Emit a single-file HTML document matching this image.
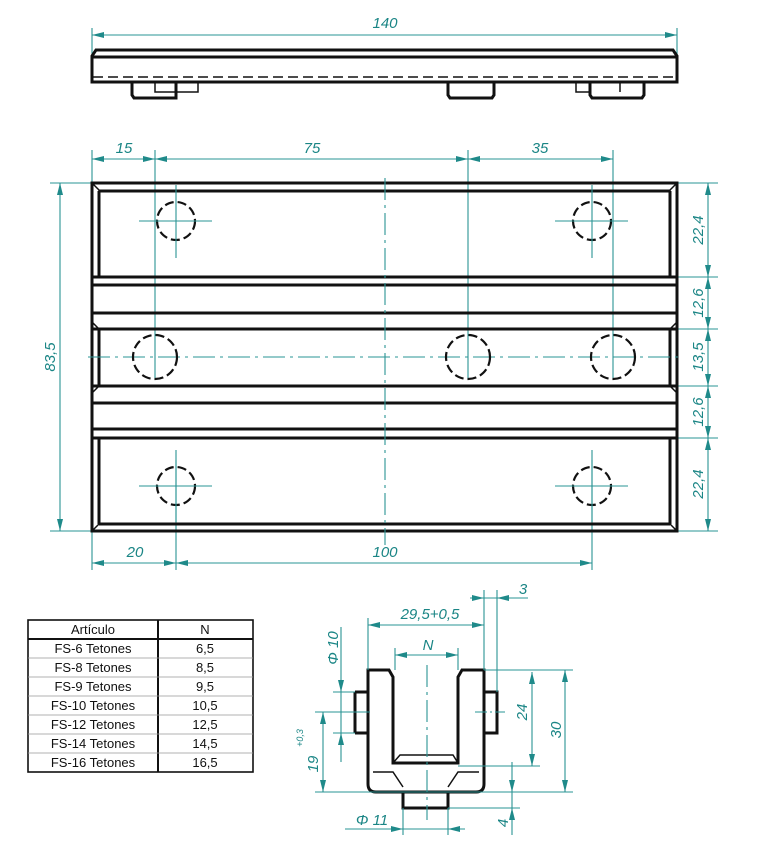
<!DOCTYPE html>
<html><head><meta charset="utf-8"><style>
html,body{margin:0;padding:0;background:#fff}
svg{display:block}
.k{stroke:#111;fill:none;stroke-width:3}
.kt{stroke:#111;fill:none;stroke-width:1.5}
.hd{stroke:#111;fill:none;stroke-width:2.2;stroke-dasharray:9 4}
.t{stroke:#2a9494;fill:none;stroke-width:1.1}
.cl{stroke:#2a9494;fill:none;stroke-width:1.1;stroke-dasharray:22 5 3 5}
.d{stroke:#2a9494;fill:none;stroke-width:1.1;marker-start:url(#a);marker-end:url(#a)}
.tx{fill:#1a8585;font-family:"Liberation Sans",sans-serif;font-style:italic;font-size:15px}
.tb{font-family:"Liberation Sans",sans-serif;font-size:13px;fill:#111}
</style></head><body>
<svg width="768" height="849" viewBox="0 0 768 849" xmlns="http://www.w3.org/2000/svg">
<defs>
<marker id="a" viewBox="0 0 12 6" refX="12" refY="3" markerWidth="12" markerHeight="6" markerUnits="userSpaceOnUse" orient="auto-start-reverse">
<path d="M12,3 L0,0 L0,6 Z" fill="#1f8a8a"/></marker>
</defs>

<!-- TOP VIEW -->
<line class="t" x1="92" y1="28" x2="92" y2="56"/><line class="t" x1="677" y1="28" x2="677" y2="56"/>
<line class="d" x1="92" y1="35" x2="677" y2="35"/>
<text class="tx" x="385" y="28" text-anchor="middle">140</text>
<path class="k" d="M92,82 L92,56 L96,50 L673,50 L677,56 L677,82 Z"/>
<line class="k" x1="93" y1="57" x2="676" y2="57"/>
<line class="kt" x1="93" y1="77" x2="676" y2="77" stroke-dasharray="10 5"/>
<path class="k" d="M132,83 L132,95 L134,98 L176,98 L176,83"/>
<path class="kt" d="M155,83 L155,92 L198,92 L198,83"/>
<path class="k" d="M448,83 L448,95 L450,98 L492,98 L494,95 L494,83"/>
<path class="kt" d="M576,83 L576,92 L590,92"/>
<path class="k" d="M590,83 L590,95 L592,98 L642,98 L644,95 L644,83"/>
<line class="kt" x1="620" y1="83" x2="620" y2="92"/>

<!-- MAIN VIEW dims -->
<line class="t" x1="92" y1="150" x2="92" y2="183"/>
<line class="t" x1="155" y1="150" x2="155" y2="380"/>
<line class="t" x1="468" y1="150" x2="468" y2="380"/>
<line class="t" x1="613" y1="150" x2="613" y2="380"/>
<line class="d" x1="92" y1="159" x2="155" y2="159"/>
<line class="d" x1="155" y1="159" x2="468" y2="159"/>
<line class="d" x1="468" y1="159" x2="613" y2="159"/>
<text class="tx" x="124" y="153" text-anchor="middle">15</text>
<text class="tx" x="312" y="153" text-anchor="middle">75</text>
<text class="tx" x="540" y="153" text-anchor="middle">35</text>

<line class="t" x1="50" y1="183" x2="92" y2="183"/><line class="t" x1="50" y1="531" x2="92" y2="531"/>
<line class="d" x1="60" y1="183" x2="60" y2="531"/>
<text class="tx" transform="translate(55,357) rotate(-90)" text-anchor="middle">83,5</text>

<line class="t" x1="92" y1="531" x2="92" y2="570"/>
<line class="t" x1="176" y1="460" x2="176" y2="570"/>
<line class="t" x1="592" y1="460" x2="592" y2="570"/>
<line class="d" x1="92" y1="563" x2="176" y2="563"/>
<line class="d" x1="176" y1="563" x2="592" y2="563"/>
<text class="tx" x="135" y="557" text-anchor="middle">20</text>
<text class="tx" x="385" y="557" text-anchor="middle">100</text>

<g>
<line class="t" x1="677" y1="183" x2="718" y2="183"/>
<line class="t" x1="670" y1="277" x2="718" y2="277"/>
<line class="t" x1="670" y1="329" x2="718" y2="329"/>
<line class="t" x1="670" y1="386" x2="718" y2="386"/>
<line class="t" x1="670" y1="438" x2="718" y2="438"/>
<line class="t" x1="677" y1="531" x2="718" y2="531"/>
<line class="d" x1="708" y1="183" x2="708" y2="277"/>
<line class="d" x1="708" y1="277" x2="708" y2="329"/>
<line class="d" x1="708" y1="329" x2="708" y2="386"/>
<line class="d" x1="708" y1="386" x2="708" y2="438"/>
<line class="d" x1="708" y1="438" x2="708" y2="531"/>
<text class="tx" transform="translate(703,230) rotate(-90)" text-anchor="middle">22,4</text>
<text class="tx" transform="translate(703,303) rotate(-90)" text-anchor="middle">12,6</text>
<text class="tx" transform="translate(703,357) rotate(-90)" text-anchor="middle">13,5</text>
<text class="tx" transform="translate(703,412) rotate(-90)" text-anchor="middle">12,6</text>
<text class="tx" transform="translate(703,484) rotate(-90)" text-anchor="middle">22,4</text>
</g>

<!-- plate -->
<rect class="k" x="92" y="183" width="585" height="348"/>
<path class="kt" d="M92,183 L99,190 L99,277 M677,183 L670,190 L670,277 M92,531 L99,524 L99,438 M677,531 L670,524 L670,438"/>
<line class="k" x1="99" y1="191" x2="670" y2="191"/>
<line class="k" x1="99" y1="524" x2="670" y2="524"/>
<line class="k" x1="99" y1="191" x2="99" y2="277"/><line class="k" x1="670" y1="191" x2="670" y2="277"/>
<line class="k" x1="99" y1="438" x2="99" y2="524"/><line class="k" x1="670" y1="438" x2="670" y2="524"/>
<line class="k" x1="92" y1="277" x2="677" y2="277"/>
<line class="k" x1="92" y1="285" x2="677" y2="285"/>
<line class="k" x1="92" y1="313" x2="677" y2="313"/>
<line class="k" x1="92" y1="329" x2="677" y2="329"/>
<line class="k" x1="92" y1="386" x2="677" y2="386"/>
<line class="k" x1="92" y1="403" x2="677" y2="403"/>
<line class="k" x1="92" y1="429" x2="677" y2="429"/>
<line class="k" x1="92" y1="438" x2="677" y2="438"/>
<line class="k" x1="99" y1="329" x2="99" y2="386"/><line class="k" x1="670" y1="329" x2="670" y2="386"/>
<path class="kt" d="M92,322 L99,329 M92,393 L99,386 M677,322 L670,329 M677,393 L670,386"/>

<!-- center lines -->
<line class="cl" x1="385" y1="178" x2="385" y2="545"/>
<line class="cl" x1="88" y1="357" x2="680" y2="357"/>
<!-- holes -->
<g>
<circle class="hd" cx="176" cy="221" r="19"/>
<circle class="hd" cx="592" cy="221" r="19"/>
<circle class="hd" cx="176" cy="486" r="19"/>
<circle class="hd" cx="592" cy="486" r="19"/>
<circle class="hd" cx="155" cy="357" r="22"/>
<circle class="hd" cx="468" cy="357" r="22"/>
<circle class="hd" cx="613" cy="357" r="22"/>
<path class="t" d="M176,185 V258 M139,221 H212 M592,185 V258 M555,221 H628 M176,450 V522 M139,486 H212 M592,450 V522 M555,486 H628"/>
</g>

<!-- TABLE -->
<rect x="28" y="620" width="225" height="152" fill="none" stroke="#111" stroke-width="1.6"/>
<line x1="158" y1="620" x2="158" y2="772" stroke="#111" stroke-width="2"/>
<line x1="28" y1="639" x2="253" y2="639" stroke="#111" stroke-width="2"/>
<g stroke="#999" stroke-width="0.8">
<line x1="28" y1="658" x2="253" y2="658"/><line x1="28" y1="677" x2="253" y2="677"/>
<line x1="28" y1="696" x2="253" y2="696"/><line x1="28" y1="715" x2="253" y2="715"/>
<line x1="28" y1="734" x2="253" y2="734"/><line x1="28" y1="753" x2="253" y2="753"/>
</g>
<g class="tb" text-anchor="middle">
<text x="93" y="634">Artículo</text><text x="205" y="634">N</text>
<text x="93" y="653">FS-6 Tetones</text><text x="205" y="653">6,5</text>
<text x="93" y="672">FS-8 Tetones</text><text x="205" y="672">8,5</text>
<text x="93" y="691">FS-9 Tetones</text><text x="205" y="691">9,5</text>
<text x="93" y="710">FS-10 Tetones</text><text x="205" y="710">10,5</text>
<text x="93" y="729">FS-12 Tetones</text><text x="205" y="729">12,5</text>
<text x="93" y="748">FS-14 Tetones</text><text x="205" y="748">14,5</text>
<text x="93" y="767">FS-16 Tetones</text><text x="205" y="767">16,5</text>
</g>

<!-- SECTION -->
<path class="k" d="M368,670 L389,670 L393,677 L393,763 L458,763 L458,677 L462,670 L484,670 L484,784 Q484,792 476,792 L376,792 Q368,792 368,784 Z"/>
<path class="kt" d="M393,763 L400,755 L453,755 L458,763 M373,772 L393,772 L403,787 M479,772 L458,772 L448,787"/>
<path class="k" d="M355,692 L368,692 M355,733 L368,733 M355,692 L355,733"/>
<path class="k" d="M484,692 L497,692 L497,733 L484,733"/>
<path class="k" d="M403,793 L403,808 L448,808 L448,793"/>
<line class="cl" x1="427" y1="665" x2="427" y2="820"/>
<line class="t" x1="475" y1="712" x2="505" y2="712" stroke-dasharray="12 3 2 3"/>
<line class="t" x1="350" y1="712" x2="370" y2="712"/>

<line class="t" x1="368" y1="618" x2="368" y2="670"/>
<line class="t" x1="484" y1="590" x2="484" y2="670"/>
<line class="t" x1="497" y1="590" x2="497" y2="692"/>
<line class="d" x1="368" y1="625" x2="484" y2="625"/>
<text class="tx" x="430" y="619" text-anchor="middle">29,5+0,5</text>
<line class="t" x1="395" y1="648" x2="395" y2="670"/>
<line class="t" x1="458" y1="648" x2="458" y2="670"/>
<line class="d" x1="395" y1="655" x2="458" y2="655"/>
<text class="tx" x="428" y="650" text-anchor="middle">N</text>
<line class="t" x1="470" y1="598" x2="528" y2="598"/>
<path d="M484,598 L472,595 L472,601 Z M497,598 L509,595 L509,601 Z" fill="#1f8a8a"/>
<text class="tx" x="523" y="594" text-anchor="middle">3</text>

<line class="t" x1="333" y1="692" x2="355" y2="692"/>
<line class="t" x1="333" y1="733" x2="355" y2="733"/>
<line class="t" x1="341" y1="627" x2="341" y2="762"/>
<path d="M341,692 L338,680 L344,680 Z M341,733 L338,745 L344,745 Z" fill="#1f8a8a"/>
<text class="tx" transform="translate(338,648) rotate(-90)" text-anchor="middle">Φ 10</text>

<line class="t" x1="315" y1="712" x2="350" y2="712"/>
<line class="t" x1="315" y1="792" x2="573" y2="792"/>
<line class="d" x1="323" y1="712" x2="323" y2="792"/>
<text class="tx" transform="translate(318,764) rotate(-90)" text-anchor="middle">19</text>
<text class="tx" transform="translate(303,738) rotate(-90)" text-anchor="middle" style="font-size:9px">+0,3</text>

<line class="t" x1="484" y1="670" x2="573" y2="670"/>
<line class="t" x1="458" y1="766" x2="540" y2="766"/>
<line class="d" x1="532" y1="672" x2="532" y2="766"/>
<text class="tx" transform="translate(527,712) rotate(-90)" text-anchor="middle">24</text>
<line class="d" x1="565" y1="670" x2="565" y2="792"/>
<text class="tx" transform="translate(561,730) rotate(-90)" text-anchor="middle">30</text>

<line class="t" x1="448" y1="808" x2="520" y2="808"/>
<line class="t" x1="512" y1="762" x2="512" y2="835"/>
<path d="M512,792 L509,780 L515,780 Z M512,808 L509,820 L515,820 Z" fill="#1f8a8a"/>
<text class="tx" transform="translate(508,823) rotate(-90)" text-anchor="middle">4</text>

<line class="t" x1="403" y1="808" x2="403" y2="835"/>
<line class="t" x1="448" y1="808" x2="448" y2="835"/>
<line class="t" x1="345" y1="829" x2="465" y2="829"/>
<path d="M403,829 L391,826 L391,832 Z M448,829 L460,826 L460,832 Z" fill="#1f8a8a"/>
<text class="tx" x="372" y="825" text-anchor="middle">Φ 11</text>
</svg>
</body></html>
